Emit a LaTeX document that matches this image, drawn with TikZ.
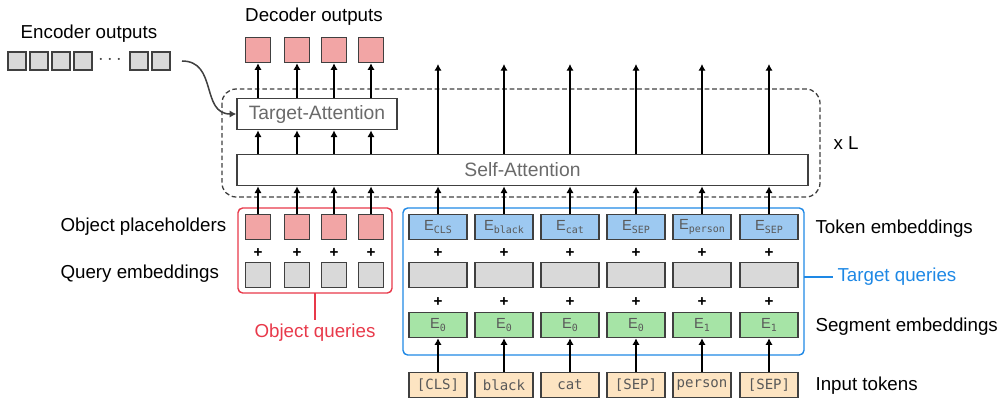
\documentclass[tikz,border=0pt]{standalone}
\usepackage{fontspec}
\setmainfont{Liberation Sans}
\setmonofont{DejaVu Sans Mono}
\usepackage{tikz}
\usetikzlibrary{arrows.meta}
\usetikzlibrary{positioning}
\definecolor{boxline}{HTML}{404040}
\definecolor{txtgray}{HTML}{595959}
\definecolor{objred}{HTML}{F2A5A5}
\definecolor{qgray}{HTML}{D9D9D9}
\definecolor{tokblue}{HTML}{9DC9F1}
\definecolor{seggreen}{HTML}{A6E4A6}
\definecolor{inpeach}{HTML}{FDE4C2}
\definecolor{linered}{HTML}{E8394A}
\definecolor{lineblue}{HTML}{1E88E5}
\tikzset{cell/.style={draw=boxline, line width=1.2pt, inner sep=0pt, text=txtgray}}
\tikzset{sqcell/.style={cell, minimum width=0.75cm, minimum height=0.75cm}}
\tikzset{encsq/.style={cell, fill=qgray, minimum width=0.54cm, minimum height=0.54cm}}
\tikzset{wide/.style={cell, minimum width=1.74cm, minimum height=0.75cm}}
\tikzset{attn/.style={cell, minimum height=0.94cm, font=\fontsize{16.5}{19}\selectfont, text=txtgray!90}}
\tikzset{lbl/.style={font=\fontsize{16}{19}\selectfont}}
\tikzset{plus/.style={font=\fontsize{13}{14}\selectfont\bfseries}}
\tikzset{tok/.style={font=\fontsize{12}{14}\selectfont\ttfamily}}
\newcommand{\emb}[1]{{\fontsize{12.5}{14}\selectfont E}\raisebox{-0.55ex}{\fontsize{8.5}{9}\selectfont\ttfamily #1}}

\begin{document}
\begin{tikzpicture}[x=0.3mm, y=-0.3mm, >={Latex[length=2mm,width=2.2mm]}, line width=1.1pt]
		\useasboundingbox (0,0) rectangle (1002,400);
		% encoder side
		\node[lbl] (enclbl) at (89,34) {Encoder outputs};
		\node[encsq] (e1) at (17,61) {};
		\node[encsq] (e2) at (39,61) {};
		\node[encsq] (e3) at (61,61) {};
		\node[encsq] (e4) at (83,61) {};
		\node[font=\fontsize{17}{19}\selectfont, text=boxline] (edots) at (110,60) {$\cdots$};
		\node[encsq] (e5) at (139,61) {};
		\node[encsq] (e6) at (161,61) {};
		\coordinate (encend) at (182,61);
		% decoder outputs
		\node[lbl] (declbl) at (314,17) {Decoder outputs};
		\node[sqcell, fill=objred] (d1) at (258,50) {};
		\node[sqcell, fill=objred] (d2) at (297,50) {};
		\node[sqcell, fill=objred] (d3) at (334,50) {};
		\node[sqcell, fill=objred] (d4) at (371,50) {};
		% decoder layer
		\draw[boxline, dash pattern=on 4pt off 2.4pt, line width=1.1pt, rounded corners=12] (222,89) rectangle (820,197);
		\node[lbl] (rep) at (846,143) {x L};
		\node[attn, minimum width=4.8cm] (ta) at (317,114) {Target-Attention};
		\node[attn, minimum width=17.13cm] (sa) at (522.5,170) {Self-Attention};
		% object queries
		\node[sqcell, fill=objred] (p1) at (258,227) {};
		\node[sqcell, fill=objred] (p2) at (297,227) {};
		\node[sqcell, fill=objred] (p3) at (334,227) {};
		\node[sqcell, fill=objred] (p4) at (371,227) {};
		\node[plus] at (258,253) {+};
		\node[plus] at (297,253) {+};
		\node[plus] at (334,253) {+};
		\node[plus] at (371,253) {+};
		\node[sqcell, fill=qgray] (q1) at (258,275) {};
		\node[sqcell, fill=qgray] (q2) at (297,275) {};
		\node[sqcell, fill=qgray] (q3) at (334,275) {};
		\node[sqcell, fill=qgray] (q4) at (371,275) {};
		\draw[linered, line width=1.2pt, rounded corners=4] (238,208) rectangle (392,293);
		\node[lbl, text=linered] (objq) at (315,333) {Object queries};
		\draw[linered, line width=1.2pt] (315,293) -- (objq.north);
		\node[lbl, anchor=west] (plclbl) at (56,227) {Object placeholders};
		\node[lbl, anchor=west] (qrylbl) at (56,274) {Query embeddings};
		% target queries
		\node[wide, fill=tokblue] (t1) at (438,227) {\emb{CLS}};
		\node[wide, fill=tokblue] (t2) at (504,227) {\emb{black}};
		\node[wide, fill=tokblue] (t3) at (570,227) {\emb{cat}};
		\node[wide, fill=tokblue] (t4) at (636,227) {\emb{SEP}};
		\node[wide, fill=tokblue] (t5) at (702,227) {\emb{person}};
		\node[wide, fill=tokblue] (t6) at (769,227) {\emb{SEP}};
		\node[plus] at (438,253) {+};
		\node[plus] at (504,253) {+};
		\node[plus] at (570,253) {+};
		\node[plus] at (636,253) {+};
		\node[plus] at (702,253) {+};
		\node[plus] at (769,253) {+};
		\node[wide, fill=qgray] (g1) at (438,275) {};
		\node[wide, fill=qgray] (g2) at (504,275) {};
		\node[wide, fill=qgray] (g3) at (570,275) {};
		\node[wide, fill=qgray] (g4) at (636,275) {};
		\node[wide, fill=qgray] (g5) at (702,275) {};
		\node[wide, fill=qgray] (g6) at (769,275) {};
		\node[plus] at (438,302) {+};
		\node[plus] at (504,302) {+};
		\node[plus] at (570,302) {+};
		\node[plus] at (636,302) {+};
		\node[plus] at (702,302) {+};
		\node[plus] at (769,302) {+};
		\node[wide, fill=seggreen] (s1) at (438,325) {\emb{0}};
		\node[wide, fill=seggreen] (s2) at (504,325) {\emb{0}};
		\node[wide, fill=seggreen] (s3) at (570,325) {\emb{0}};
		\node[wide, fill=seggreen] (s4) at (636,325) {\emb{0}};
		\node[wide, fill=seggreen] (s5) at (702,325) {\emb{1}};
		\node[wide, fill=seggreen] (s6) at (769,325) {\emb{1}};
		\draw[lineblue, line width=1.2pt, rounded corners=4] (403,208) rectangle (804,355);
		\node[wide, tok, fill=inpeach] (i1) at (438,385) {[CLS]};
		\node[wide, tok, fill=inpeach] (i2) at (504,385) {black};
		\node[wide, tok, fill=inpeach] (i3) at (570,385) {cat};
		\node[wide, tok, fill=inpeach] (i4) at (636,385) {[SEP]};
		\node[wide, tok, fill=inpeach] (i5) at (702,385) {person};
		\node[wide, tok, fill=inpeach] (i6) at (769,385) {[SEP]};
		% right labels
		\node[lbl, anchor=west] (toklbl) at (811,229) {Token embeddings};
		\node[lbl, anchor=west, text=lineblue] (tgtq) at (833,277) {Target queries};
		\draw[lineblue, line width=1.2pt] (804,277) -- (tgtq.west);
		\node[lbl, anchor=west] (seglbl) at (811,327) {Segment embeddings};
		\node[lbl, anchor=west] (inplbl) at (811,386) {Input tokens};
		\coordinate (top) at (600,64);
		% connectors
		\draw[->, boxline, line width=1.3pt] (encend) to[out=0, in=180, looseness=1.2] (ta.west);
		\path [->] (ta.north -| d1) edge (d1);
		\path [->] (ta.north -| d2) edge (d2);
		\path [->] (ta.north -| d3) edge (d3);
		\path [->] (ta.north -| d4) edge (d4);
		\path [->] (sa.north -| p1) edge (ta.south -| p1);
		\path [->] (sa.north -| p2) edge (ta.south -| p2);
		\path [->] (sa.north -| p3) edge (ta.south -| p3);
		\path [->] (sa.north -| p4) edge (ta.south -| p4);
		\path [->] (p1) edge (sa.south -| p1);
		\path [->] (p2) edge (sa.south -| p2);
		\path [->] (p3) edge (sa.south -| p3);
		\path [->] (p4) edge (sa.south -| p4);
		\path [->] (t1) edge (sa.south -| t1);
		\path [->] (t2) edge (sa.south -| t2);
		\path [->] (t3) edge (sa.south -| t3);
		\path [->] (t4) edge (sa.south -| t4);
		\path [->] (t5) edge (sa.south -| t5);
		\path [->] (t6) edge (sa.south -| t6);
		\path [->] (sa.north -| t1) edge (top -| t1);
		\path [->] (sa.north -| t2) edge (top -| t2);
		\path [->] (sa.north -| t3) edge (top -| t3);
		\path [->] (sa.north -| t4) edge (top -| t4);
		\path [->] (sa.north -| t5) edge (top -| t5);
		\path [->] (sa.north -| t6) edge (top -| t6);
		\path [->] (i1) edge (s1);
		\path [->] (i2) edge (s2);
		\path [->] (i3) edge (s3);
		\path [->] (i4) edge (s4);
		\path [->] (i5) edge (s5);
		\path [->] (i6) edge (s6);
	\end{tikzpicture}
\end{document}
